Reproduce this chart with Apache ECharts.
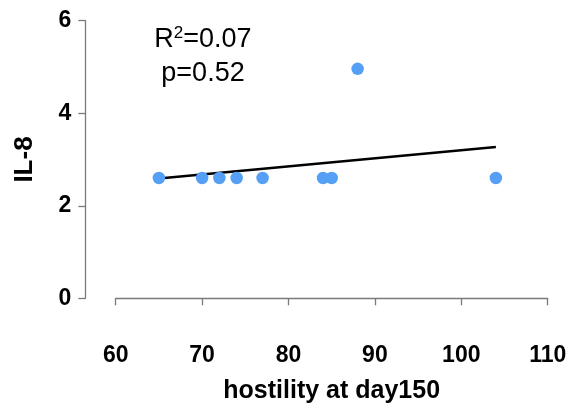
<!DOCTYPE html>
<html>
<head>
<meta charset="utf-8">
<script src="https://cdn.jsdelivr.net/npm/echarts@6/dist/echarts.min.js"></script>
<style>html,body{margin:0;padding:0;background:#fff}#c{width:583px;height:408px}</style>
</head>
<body>
<div id="c"></div>
<script>
const hostility = [65, 70, 72, 74, 77, 84, 85, 88, 104];
const il8 = [2.6, 2.6, 2.6, 2.6, 2.6, 2.6, 2.6, 4.96, 2.6];
const fitX = [65, 104];
const fitY = [2.59, 3.27];
const xTicks = [60, 70, 80, 90, 100, 110];
const yTicks = [0, 2, 4, 6];
const rSquared = '0.07';
const pValue = '0.52';
const xName = 'hostility at day150';
const yName = 'IL-8';

const FONT = '"Liberation Sans", Arial, sans-serif';
const chart = echarts.init(document.getElementById('c'), null, {renderer: 'canvas'});
const axisCol = '#7a7a7a';
chart.setOption({
  animation: false,
  backgroundColor: '#fff',
  grid: {left: 115.7, right: 35.3, top: 20.7, bottom: 109.7, containLabel: false, outerBoundsMode: 'none'},
  xAxis: {
    type: 'value', min: xTicks[0], max: xTicks[xTicks.length - 1], interval: 10,
    offset: 31,
    axisLine: {show: true, lineStyle: {color: axisCol, width: 1.3}},
    axisTick: {show: true, length: 7, lineStyle: {color: axisCol, width: 1.3}},
    splitLine: {show: false},
    axisLabel: {margin: 15, fontSize: 23, fontWeight: 'bold', color: '#000', fontFamily: FONT},
    name: xName, nameLocation: 'middle', nameGap: 49,
    nameTextStyle: {fontSize: 25, fontWeight: 'bold', color: '#000', fontFamily: FONT}
  },
  yAxis: {
    type: 'value', min: yTicks[0], max: yTicks[yTicks.length - 1], interval: 2,
    offset: 30.4,
    axisLine: {show: true, lineStyle: {color: axisCol, width: 1.3}},
    axisTick: {show: true, length: 7, lineStyle: {color: axisCol, width: 1.3}},
    splitLine: {show: false},
    axisLabel: {margin: 14, fontSize: 23, fontWeight: 'bold', color: '#000', fontFamily: FONT},
    name: yName, nameLocation: 'middle', nameGap: 47, nameRotate: 90,
    nameTextStyle: {fontSize: 26, fontWeight: 'bold', color: '#000', fontFamily: FONT}
  },
  series: [
    {
      type: 'line', data: fitX.map((x, i) => [x, fitY[i]]),
      symbol: 'none', lineStyle: {color: '#000', width: 2.5}, z: 3, silent: true
    },
    {
      type: 'scatter', data: hostility.map((x, i) => [x, il8[i]]),
      symbolSize: 12.5, itemStyle: {color: '#559ff5', opacity: 1}, z: 4
    }
  ],
  graphic: [
    {type: 'text', x: 203, y: 40, style: {
      text: '{n|R}{s|2}{n|=' + rSquared + '}',
      align: 'center', verticalAlign: 'middle',
      rich: {
        n: {fontSize: 27, fontFamily: FONT, fill: '#000', color: '#000', lineHeight: 30},
        s: {fontSize: 17, fontFamily: FONT, fill: '#000', color: '#000', lineHeight: 17, verticalAlign: 'top'}
      }
    }},
    {type: 'text', x: 203, y: 74, style: {text: 'p=' + pValue, font: '27px ' + FONT, fill: '#000', align: 'center', verticalAlign: 'middle'}}
  ]
});
</script>
</body>
</html>
